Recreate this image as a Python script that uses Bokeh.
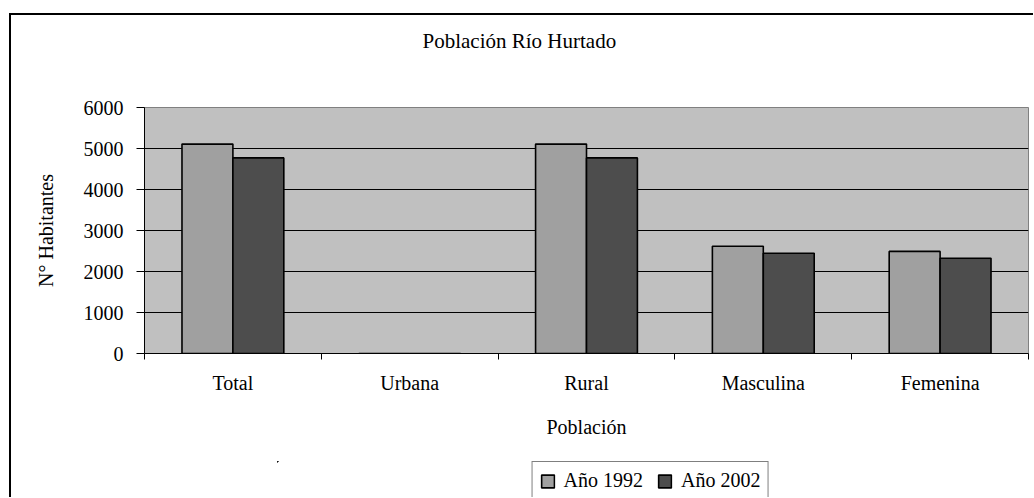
from bokeh.plotting import figure
from bokeh.layouts import column
from bokeh.models import (Range1d, FixedTicker, Title, Legend, LegendItem,
                          ColumnDataSource)
from bokeh.transform import dodge
from bokeh.embed import file_html
from bokeh.resources import INLINE

# ---- data ----
categories = ["Total", "Urbana", "Rural", "Masculina", "Femenina"]
anio_1992 = [5107, 0, 5107, 2617, 2490]
anio_2002 = [4771, 0, 4771, 2446, 2325]
series_labels = ["Año 1992", "Año 2002"]
y_ticks = [0, 1000, 2000, 3000, 4000, 5000, 6000]
title_text = "Población Río Hurtado"
x_title = "Población"
y_title = "N° Habitantes"

FONT = "Liberation Serif"
FS = "20px"
C1 = "#A0A0A0"
C2 = "#4D4D4D"

x_center = [i + 0.5 for i in range(len(categories))]
source = ColumnDataSource(dict(x=x_center, cat=categories, a=anio_1992, b=anio_2002))

p = figure(frame_width=884, frame_height=246, output_backend="svg",
           toolbar_location=None, title_location=None,
           x_range=Range1d(0, len(categories)), y_range=Range1d(0, 6000),
           min_border_left=133, min_border_right=5, min_border_top=92,
           min_border_bottom=108)
p.background_fill_color = "#C0C0C0"
p.border_fill_color = "white"
p.outline_line_color = "#808080"
p.outline_line_width = 1

bw = 0.288
bar_kw = dict(width=bw, source=source, line_color="black", line_width=1.6)
p.vbar(x=dodge("x", -bw / 2), top="a", fill_color=C1, **bar_kw)
p.vbar(x=dodge("x", bw / 2), top="b", fill_color=C2, **bar_kw)

# grid
p.xgrid.grid_line_color = None
p.ygrid.ticker = FixedTicker(ticks=y_ticks)
p.ygrid.grid_line_color = "black"
p.ygrid.grid_line_width = 1

# y axis
p.yaxis.ticker = FixedTicker(ticks=y_ticks)
p.yaxis.major_tick_in = 0
p.yaxis.major_tick_out = 8
p.yaxis.minor_tick_line_color = None
p.yaxis.axis_line_color = "black"
p.yaxis.major_tick_line_color = "black"
p.yaxis.major_label_standoff = 13
p.yaxis.major_label_text_font = FONT
p.yaxis.major_label_text_font_size = FS
p.yaxis.major_label_text_color = "black"
p.yaxis.axis_label = y_title
p.yaxis.axis_label_text_font = FONT
p.yaxis.axis_label_text_font_size = FS
p.yaxis.axis_label_text_font_style = "normal"
p.yaxis.axis_label_text_color = "black"
p.yaxis.axis_label_standoff = 24

# x axis
p.xaxis.ticker = FixedTicker(ticks=x_center,
                             minor_ticks=list(range(len(categories) + 1)))
p.xaxis.major_label_overrides = {x: c for x, c in zip(x_center, categories)}
p.xaxis.major_tick_line_color = None
p.xaxis.major_tick_in = 0
p.xaxis.major_tick_out = 0
p.xaxis.minor_tick_in = 0
p.xaxis.minor_tick_out = 6
p.xaxis.minor_tick_line_color = "black"
p.xaxis.axis_line_color = "black"
p.xaxis.major_label_standoff = 12
p.xaxis.major_label_text_font = FONT
p.xaxis.major_label_text_font_size = FS
p.xaxis.major_label_text_color = "black"
p.xaxis.axis_label = x_title
p.xaxis.axis_label_text_font = FONT
p.xaxis.axis_label_text_font_size = FS
p.xaxis.axis_label_text_font_style = "normal"
p.xaxis.axis_label_text_color = "black"
p.xaxis.axis_label_standoff = 19

# title: an empty spacer title next to the frame, then the real title above it
p.add_layout(Title(text=" ", text_font_size="1px", standoff=47), "above")
p.add_layout(Title(text=title_text, align="left", offset=278, standoff=10,
                   text_font=FONT, text_font_size="21px",
                   text_font_style="normal", text_color="black"), "above")

# ---- legend strip (a small figure under the chart, same width as the plot area)
# its ranges keep the series' bars far outside the strip, so only swatches show
q = figure(width=884, height=36, output_backend="svg", toolbar_location=None,
           x_axis_type=None, y_axis_type=None, min_border=0,
           x_range=Range1d(100, 105), y_range=Range1d(-20000, -10000))
q.outline_line_color = None
q.background_fill_color = "white"
q.border_fill_color = "white"
q.styles = {"margin-left": "133px"}
l1 = q.vbar(x=dodge("x", -bw / 2), top="a", fill_color=C1, **bar_kw)
l2 = q.vbar(x=dodge("x", bw / 2), top="b", fill_color=C2, **bar_kw)
legend = Legend(items=[LegendItem(label=series_labels[0], renderers=[l1]),
                       LegendItem(label=series_labels[1], renderers=[l2])],
                orientation="horizontal", location="top_center",
                border_line_color="black", border_line_width=1,
                background_fill_color="white", background_fill_alpha=1,
                label_text_font=FONT, label_text_font_size=FS,
                label_text_color="black",
                glyph_width=16, glyph_height=16, padding=7, spacing=14,
                label_standoff=8, margin=0)
q.add_layout(legend)

layout = column(p, q, spacing=0)
# outer chart border (only its top and left edges fall inside the window)
layout.styles = {"margin-left": "9px", "margin-top": "13px",
                 "border-left": "2px solid black", "border-top": "2px solid black"}

open("out.html", "w").write(file_html(layout, INLINE))
